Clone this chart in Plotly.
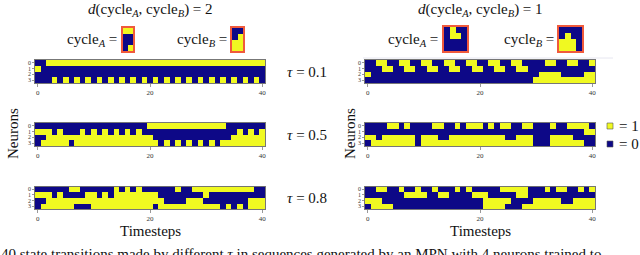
import plotly.graph_objects as go

W, H = 640, 255
FONT = "Liberation Serif"
BLUE, YELLOW = "#0d0887", "#f0f921"
CS = [[0, BLUE], [1, YELLOW]]

N_STEPS = 41
X_TICKS = [0, 20, 40]
Y_TICKS = [0, 1, 2, 3]

# yellow (=1) runs per neuron row, as (first_timestep, last_timestep)
TL_TAU01 = [[(2, 40)], [(0, 0)], [],
            [(3, 3), (5, 5), (7, 7), (9, 9), (11, 11), (13, 13), (15, 15), (17, 17), (19, 19),
             (21, 21), (23, 23), (25, 25), (27, 27), (29, 29), (31, 31), (33, 33), (35, 35),
             (37, 37), (39, 39)]]
TR_TAU01 = [[(2, 3), (6, 7), (10, 11), (14, 15), (18, 19), (22, 23), (26, 27), (32, 33), (36, 37), (40, 40)],
            [(3, 4), (7, 8), (11, 12), (15, 16), (19, 20), (23, 24), (27, 28)],
            [(0, 0), (31, 34), (39, 40)],
            [(30, 40)]]
ML_TAU05 = [[(20, 33)],
            [(0, 2), (4, 4), (8, 8), (10, 10), (12, 12), (14, 14), (16, 16), (18, 18), (36, 36), (38, 38), (40, 40)],
            [(2, 20), (35, 40)],
            [(1, 5), (7, 21), (23, 23), (25, 25), (27, 27), (29, 29), (31, 31), (33, 40)]]
MR_TAU05 = [[(4, 5), (7, 7), (12, 13), (16, 16), (18, 20), (22, 22), (24, 25), (28, 29), (33, 33), (36, 39)],
            [(39, 40)],
            [(0, 1), (3, 8), (10, 12), (15, 24), (27, 29), (33, 36)],
            [(1, 8), (10, 29), (33, 38)]]
BL_TAU08 = [[(6, 7), (14, 14), (16, 16), (18, 18), (25, 25), (28, 38)],
            [(0, 2), (4, 4), (9, 10), (12, 12), (14, 21), (30, 30)],
            [(2, 22), (27, 29), (38, 40)],
            [(1, 6), (10, 20), (22, 32), (34, 34), (36, 36), (38, 40)]]
BR_TAU08 = [[(2, 3), (6, 6), (9, 9), (12, 12), (16, 16), (18, 18), (24, 28), (32, 32), (34, 35), (38, 38), (40, 40)],
            [(7, 10), (13, 14), (19, 21), (27, 28)],
            [(0, 2), (21, 25), (30, 34), (37, 40)],
            [(1, 4), (21, 24), (28, 40)]]

# cycle icons (rows = neurons, cols = steps)
CYCLE_A_D2 = [[1, 1], [0, 0], [0, 0], [0, 1]]
CYCLE_B_D2 = [[0, 0], [0, 1], [1, 1], [1, 1]]
CYCLE_A_D1 = [[0, 1, 0, 0], [0, 1, 1, 0], [0, 0, 0, 0], [0, 0, 0, 0]]
CYCLE_B_D1 = [[0, 0, 0, 0], [0, 1, 0, 0], [1, 1, 1, 0], [1, 1, 1, 0]]

TAUS = ["0.1", "0.5", "0.8"]
DISTANCES = ["2", "1"]
LEGEND_LABELS = ["= 1", "= 0"]


def px(x):
    return x / W


def py(y):
    return 1 - y / H


def to_z(runs, ncols):
    z = [[0] * ncols for _ in range(len(runs))]
    for r, row in enumerate(runs):
        for a, b in row:
            for c in range(a, b + 1):
                z[r][c] = 1
    return z


fig = go.Figure()
layout = {}
idx = [0]


def add_panel(z, x0, x1, y0, y1, icon=False):
    idx[0] += 1
    i = idx[0]
    ncols = len(z[0])
    fig.add_trace(go.Heatmap(z=z, x=list(range(ncols)), y=list(range(len(z))),
                             colorscale=CS, zmin=0, zmax=1, showscale=False,
                             hoverinfo="skip", xaxis=f"x{i}", yaxis=f"y{i}"))
    xa = dict(domain=[px(x0), px(x1)], range=[-0.5, ncols - 0.5], anchor=f"y{i}",
              showgrid=False, zeroline=False, showline=True, mirror=True, fixedrange=True)
    ya = dict(domain=[py(y1), py(y0)], range=[len(z) - 0.5, -0.5], anchor=f"x{i}",
              showgrid=False, zeroline=False, showline=True, mirror=True, fixedrange=True)
    if icon:
        for a in (xa, ya):
            a.update(linecolor="#f05a3c", linewidth=1.6, showticklabels=False, ticks="")
    else:
        xa.update(linecolor="#555", linewidth=0.8, tickvals=X_TICKS, ticks="outside",
                  ticklen=3, tickwidth=0.6, tickcolor="#555",
                  tickfont=dict(size=7, family=FONT, color="#333"))
        ya.update(linecolor="#555", linewidth=0.8, tickvals=Y_TICKS, ticks="outside",
                  ticklen=2, tickwidth=0.6, tickcolor="#555",
                  tickfont=dict(size=6, family=FONT, color="#333"))
    layout[f"xaxis{i if i > 1 else ''}"] = xa
    layout[f"yaxis{i if i > 1 else ''}"] = ya


rows_y = [(60, 83), (123, 146), (186.5, 209)]
left_x, right_x = (35, 265), (365, 595)
grid = [(TL_TAU01, TR_TAU01), (ML_TAU05, MR_TAU05), (BL_TAU08, BR_TAU08)]
for (yy0, yy1), (lz, rz) in zip(rows_y, grid):
    add_panel(to_z(lz, N_STEPS), left_x[0], left_x[1], yy0, yy1)
    add_panel(to_z(rz, N_STEPS), right_x[0], right_x[1], yy0, yy1)

add_panel(CYCLE_A_D2, 123, 133, 28, 51, icon=True)
add_panel(CYCLE_B_D2, 232, 243, 28, 51, icon=True)
add_panel(CYCLE_A_D1, 444, 467, 27, 51, icon=True)
add_panel(CYCLE_B_D1, 559, 582, 27, 51, icon=True)

fig.update_layout(width=W, height=H, margin=dict(l=0, r=0, t=0, b=0),
                  paper_bgcolor="white", plot_bgcolor="white", showlegend=False, **layout)


def txt(x, y, s, size=15, xanchor="center", angle=0):
    fig.add_annotation(xref="paper", yref="paper", x=px(x), y=py(y), text=s, showarrow=False,
                       xanchor=xanchor, yanchor="middle", textangle=angle, borderpad=0,
                       font=dict(family=FONT, size=size, color="#111"))


CA = "cycle<sub><i>A</i></sub>"
CB = "cycle<sub><i>B</i></sub>"
txt(150, 10, f"<i>d</i>({CA}, {CB}) = {DISTANCES[0]}")
txt(480, 10, f"<i>d</i>({CA}, {CB}) = {DISTANCES[1]}")
txt(118, 40, f"{CA} =", xanchor="right")
txt(228, 40, f"{CB} =", xanchor="right")
txt(439, 40, f"{CA} =", xanchor="right")
txt(555, 40, f"{CB} =", xanchor="right")
for (yy0, yy1), t in zip(rows_y, TAUS):
    txt(307, (yy0 + yy1) / 2, f"<i>τ</i> = {t}")
txt(13, 134, "Neurons", angle=-90)
txt(350, 134, "Neurons", angle=-90)
txt(150, 231, "Timesteps")
txt(480, 231, "Timesteps")
txt(618, 126, LEGEND_LABELS[0], xanchor="left")
txt(618, 144, LEGEND_LABELS[1], xanchor="left")
txt(0, 254, "40 state transitions made by different <i>τ</i> in sequences generated by an MPN with 4 neurons trained to",
    size=15, xanchor="left")

fig.add_shape(type="rect", xref="paper", yref="paper", x0=px(607), x1=px(613), y0=py(129), y1=py(123),
              fillcolor=YELLOW, line=dict(color="#555", width=0.6))
fig.add_shape(type="rect", xref="paper", yref="paper", x0=px(607), x1=px(613), y0=py(147), y1=py(141),
              fillcolor=BLUE, line=dict(color="#555", width=0.6))
fig.add_shape(type="line", xref="paper", yref="paper", x0=px(363), x1=px(613), y0=py(58), y1=py(58),
              line=dict(color="#e6e6f0", width=1))

fig.write_html("out.html", config={"displayModeBar": False, "staticPlot": True},
               post_script="document.body.style.margin='0';document.body.style.overflow='hidden';")
